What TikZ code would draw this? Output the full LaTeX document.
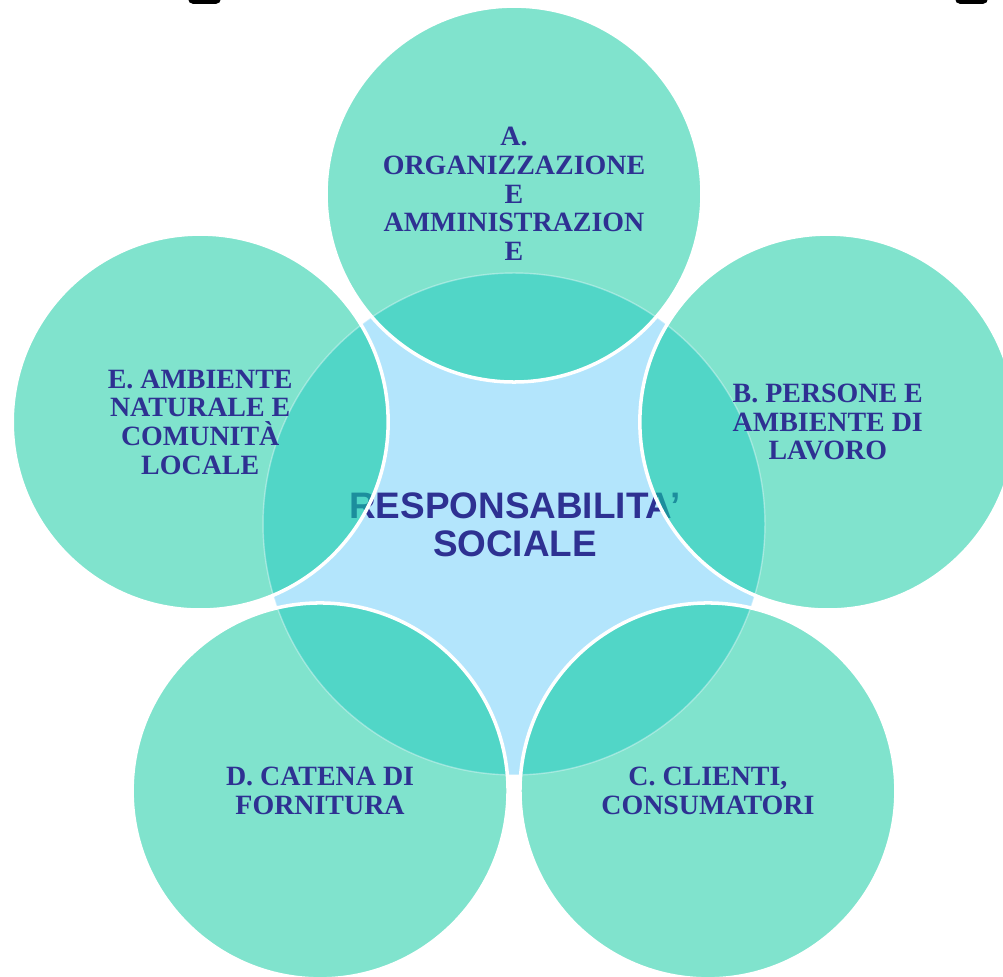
\documentclass[tikz,border=0pt]{standalone}
\usepackage{fontspec}
\setmainfont{Liberation Serif}
\setsansfont{Liberation Sans}
\usetikzlibrary{positioning}
\definecolor{petalteal}{RGB}{128,227,205}
\definecolor{overlapteal}{RGB}{17,204,165}
\definecolor{coreblue}{RGB}{179,229,252}
\definecolor{labelblue}{RGB}{46,49,146}
\tikzset{
	petal/.style={circle, minimum size=7.52cm, inner sep=0pt, fill=petalteal},
	petaltext/.style={text centered, align=center, text=labelblue,
		font=\bfseries\fontsize{15.9}{16.3}\selectfont},
	petalrim/.style={white, line width=2pt},
}

\begin{document}
\begin{tikzpicture}[x=0.02cm, y=0.02cm]
		\useasboundingbox (0,0) rectangle (1003,976);
		\clip (0,0) rectangle (1003,976);
		
		%Outer circles
		\coordinate (Centre) at (514,452);
		\node (A) at ([shift={(90:6.6cm)}]Centre) [petal]{};
		\node (B) at ([shift={(18:6.6cm)}]Centre) [petal]{};
		\node (C) at ([shift={(-54:6.6cm)}]Centre) [petal]{};
		\node (D) at ([shift={(-126:6.6cm)}]Centre) [petal]{};
		\node (E) at ([shift={(162:6.6cm)}]Centre) [petal]{};
		
		%Central circle and its writing
		\node (Core) at (Centre) [circle, minimum size=10.04cm, inner sep=0pt, fill=coreblue]{};
		\node (Core text) at (515,451) [text centered, align=center, text=labelblue,
		font=\sffamily\bfseries\fontsize{21}{21.4}\selectfont]{RESPONSABILITA’\\SOCIALE};
		
		%Overlaps of the outer circles with the central one
		\begin{scope}
			\clip (Core.center) circle (5.02cm);
			\foreach \p in {A,B,C,D,E}
			\fill[overlapteal, fill opacity=0.6] (\p.center) circle (3.76cm);
		\end{scope}
		\draw[white, opacity=0.35, line width=0.8pt] (Core.center) circle (5.02cm);
		\foreach \p in {A,B,C,D,E}
		\draw[petalrim] (\p.center) circle (3.76cm);
		
		%Writing inside the outer circles
		\node (A label) at (A) [petaltext]{A.\\ORGANIZZAZIONE\\E\\AMMINISTRAZION\\E};
		\node (B label) at (B) [petaltext]{B. PERSONE E\\AMBIENTE DI\\LAVORO};
		\node (C label) at (C) [petaltext]{C. CLIENTI,\\CONSUMATORI};
		\node (D label) at (D) [petaltext]{D. CATENA DI\\FORNITURA};
		\node (E label) at (E) [petaltext]{E. AMBIENTE\\NATURALE E\\COMUNITÀ\\LOCALE};
		
		%Marks on the top edge
		\fill[black, rounded corners=3pt] (188,972) rectangle (221,990);
		\fill[black, rounded corners=3pt] (955,972) rectangle (988,990);
		
\end{tikzpicture}
\end{document}
